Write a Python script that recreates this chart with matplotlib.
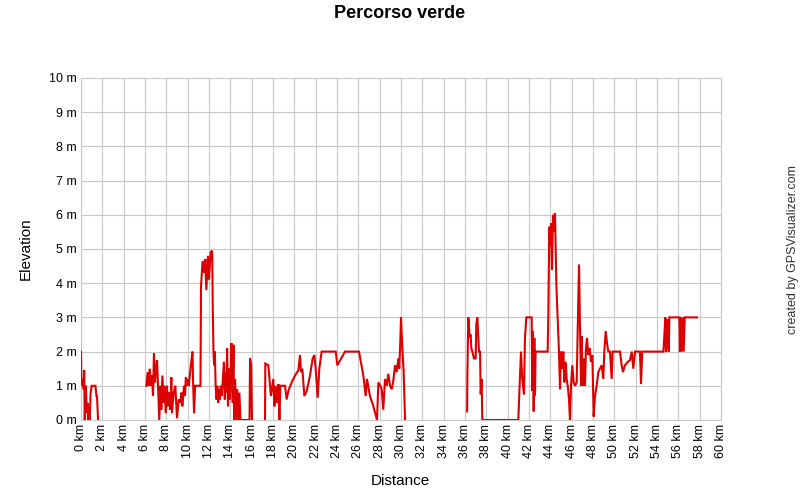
import numpy as np
import matplotlib
matplotlib.use("Agg")
import matplotlib.pyplot as plt

plt.rcParams['font.family'] = ['Liberation Sans', 'DejaVu Sans']

title = "Percorso verde"
x_label = "Distance"
y_label = "Elevation"
credit = "created by GPSVisualizer.com"

x_ticks = list(range(0, 62, 2))
x_tick_labels = [f"{v} km" for v in x_ticks]
y_ticks = list(range(0, 11))
y_tick_labels = [f"{v} m" for v in y_ticks]

seg1_km = [0.0, 0.05, 0.15, 0.25, 0.3, 0.35, 0.45, 0.55, 0.62, 0.7, 0.75, 0.82, 0.9, 1.0, 1.1, 1.35, 1.45, 1.5, 1.6]
seg1_m = [2.0, 1.0, 1.2, 0.9, 1.45, 0.0, 1.0, 0.2, 0.5, 0.0, 0.4, 0.0, 0.8, 1.0, 1.0, 1.0, 0.7, 0.7, 0.0]

seg2_km = [6.13, 6.25, 6.34, 6.44, 6.56, 6.66, 6.75, 6.84, 6.94, 7.03, 7.13, 7.22, 7.34, 7.44, 7.53, 7.63,
           7.75, 7.84, 7.94, 8.06, 8.16, 8.25, 8.38, 8.47, 8.53, 8.69, 8.84, 9.0, 9.16, 9.3, 9.42, 9.5,
           9.58, 9.66, 9.75, 9.83, 9.9, 10.0, 10.1, 10.2, 10.3, 10.45, 10.5, 10.6, 10.7, 11.1, 11.2,
           11.25, 11.4, 11.55, 11.65, 11.75, 11.9, 12.0, 12.15, 12.3, 12.35, 12.42, 12.48, 12.55, 12.62,
           12.7, 12.78, 12.86, 12.94, 13.02, 13.1, 13.2, 13.3, 13.4, 13.48, 13.55, 13.62, 13.7, 13.78,
           13.85, 13.93, 14.0, 14.1, 14.2, 14.3, 14.35, 14.45, 14.55, 14.65,
           14.75, 14.85, 14.95, 15.0, 15.8, 15.85, 15.95, 16.03]
seg2_m = [1.0, 1.4, 1.0, 1.5, 1.0, 1.3, 0.7, 1.95, 1.1, 1.5, 1.75, 1.0, 0.0, 1.0, 0.3, 1.3,
          0.5, 1.0, 0.2, 1.0, 0.4, 0.8, 0.3, 1.25, 0.2, 0.8, 1.0, 0.05, 0.6, 0.5, 0.8, 0.4,
          0.7, 1.0, 0.7, 1.25, 1.0, 1.2, 1.0, 1.3, 1.6, 2.0, 1.2, 0.2, 1.0, 1.0, 1.0,
          3.9, 4.65, 4.3, 4.7, 3.8, 4.8, 4.1, 4.9, 4.95, 3.3, 2.0, 1.6, 2.0, 1.0,
          0.6, 1.0, 0.5, 0.9, 0.6, 1.0, 0.7, 1.2, 1.7, 0.6, 1.4, 0.8, 2.1, 0.4,
          1.5, 0.6, 1.0, 2.25, 0.5, 2.2, 0.0, 1.2, 0.0, 0.9,
          0.0, 0.8, 0.0, 0.0, 0.0, 1.8, 1.6, 0.0]

seg3_km = [17.25, 17.28, 17.56, 17.81, 18.03, 18.13, 18.25, 18.38, 18.5, 18.6, 18.69, 18.97, 19.13,
           19.28, 19.44, 19.75, 20.06, 20.38, 20.53, 20.63, 20.75, 20.94, 21.16, 21.47, 21.72, 21.88,
           22.0, 22.19, 22.34, 22.56, 23.88, 24.03, 24.75, 26.06, 26.47, 26.69, 26.81, 27.09, 27.41,
           27.75, 27.88, 28.06, 28.19, 28.34, 28.5, 28.66, 28.81, 28.97, 29.13, 29.28, 29.44, 29.59,
           29.75, 29.84, 29.94, 30.0, 30.13, 30.25, 30.38]
seg3_m = [0.0, 1.65, 1.6, 0.7, 1.2, 0.4, 1.0, 0.5, 1.05, 0.0, 1.0, 1.0, 1.0,
          0.6, 0.85, 1.1, 1.3, 1.45, 1.9, 1.4, 1.5, 0.7, 0.85, 1.3, 1.8, 1.9,
          1.5, 0.65, 1.5, 2.0, 2.0, 1.6, 2.0, 2.0, 1.3, 0.7, 1.2, 0.7, 0.4,
          0.0, 1.1, 1.0, 0.9, 0.3, 1.2, 1.0, 1.35, 1.0, 0.9, 1.15, 1.6, 1.4,
          1.8, 1.5, 2.35, 3.0, 2.1, 1.4, 0.0]

seg4_km = [36.2, 36.22, 36.31, 36.44, 36.53, 36.59, 36.69, 36.84, 37.0, 37.06, 37.16, 37.25, 37.31,
           37.41, 37.47, 37.56, 37.62, 41.0, 41.12, 41.25, 41.37, 41.53, 41.62, 41.75, 42.25, 42.31,
           42.37, 42.44, 42.5, 42.56, 42.62, 43.75, 43.81, 43.9, 44.0, 44.06, 44.16, 44.25, 44.34,
           44.44, 44.56, 44.63, 44.69, 44.81, 44.91, 45.0, 45.13, 45.22, 45.31, 45.44, 45.53, 45.63,
           45.75, 45.84, 45.94, 46.06, 46.19, 46.31, 46.47, 46.56, 46.69, 46.78, 46.88, 46.94, 47.03,
           47.13, 47.25, 47.34, 47.44, 47.56, 47.69, 47.81, 47.94, 48.06, 48.19, 48.34, 48.5, 48.81,
           48.97, 49.06, 49.19, 49.31, 49.44, 49.59, 49.75, 49.84, 50.53, 50.69, 50.81, 51.0, 51.25,
           51.47, 51.63, 51.78, 51.94, 52.4, 52.5, 52.62, 54.6, 54.65, 54.78, 54.84, 54.97, 55.1,
           55.16, 56.1, 56.15, 56.2, 56.3, 56.4, 56.5, 56.6, 57.75]
seg4_m = [0.25, 1.2, 3.0, 2.4, 2.5, 2.1, 2.0, 1.8, 1.8, 2.8, 3.0, 2.4, 2.0,
          2.0, 0.75, 1.2, 0.0, 0.0, 1.0, 2.0, 1.2, 0.75, 2.4, 3.0, 3.0, 0.85,
          2.6, 0.25, 2.4, 0.7, 2.0, 2.0, 3.0, 5.65, 5.1, 5.75, 4.4, 6.0, 5.5,
          6.05, 4.0, 3.4, 2.95, 2.0, 0.9, 2.0, 1.5, 2.0, 1.1, 1.7, 1.2, 1.0,
          0.6, 0.0, 1.0, 1.6, 1.1, 1.0, 1.1, 2.55, 4.55, 2.75, 1.0, 2.45, 1.0,
          1.8, 1.0, 2.1, 2.4, 1.9, 2.1, 1.7, 1.9, 0.1, 0.7, 1.0, 1.4, 1.6,
          1.2, 2.0, 2.6, 2.25, 2.0, 2.0, 1.2, 2.0, 2.0, 1.6, 1.4, 1.6, 1.7,
          1.75, 2.0, 1.5, 2.0, 2.0, 1.05, 2.0, 2.0, 2.25, 3.0, 2.0, 2.95, 2.0,
          3.0, 3.0, 2.0, 3.0, 2.0, 3.0, 2.0, 3.0, 3.0]

segments = [(seg1_km, seg1_m), (seg2_km, seg2_m), (seg3_km, seg3_m), (seg4_km, seg4_m)]

fig = plt.figure(figsize=(8, 5), dpi=100)
ax = fig.add_axes([81 / 800, 80 / 500, 640 / 800, 342 / 500])

for km, m in segments:
    ax.plot(km, m, color='#dd0000', lw=1.5, solid_joinstyle='miter', zorder=3)

ax.set_xlim(0, 60)
ax.set_ylim(0, 10)
ax.set_xticks(x_ticks)
ax.set_xticklabels(x_tick_labels, rotation=90, fontsize=9)
ax.set_yticks(y_ticks)
ax.set_yticklabels(y_tick_labels, fontsize=9)
ax.tick_params(length=0, pad=3)
ax.grid(True, color='#c8c8c8', lw=0.8, zorder=0)
for s in ax.spines.values():
    s.set_color('#c8c8c8')
    s.set_linewidth(0.8)
ax.set_axisbelow(True)

fig.text(400 / 800, 1 - 14 / 500, title, ha='center', va='center', fontsize=13, fontweight='bold')
fig.text(400 / 800, 1 - 481 / 500, x_label, ha='center', va='center', fontsize=11)
fig.text(26 / 800, 1 - 249 / 500, y_label, ha='center', va='center', fontsize=11, rotation=90)
fig.text(793 / 800, 1 - 250 / 500, credit, ha='center', va='center', fontsize=9, rotation=90, color='#333333')

fig.savefig('out.png', dpi=100)
